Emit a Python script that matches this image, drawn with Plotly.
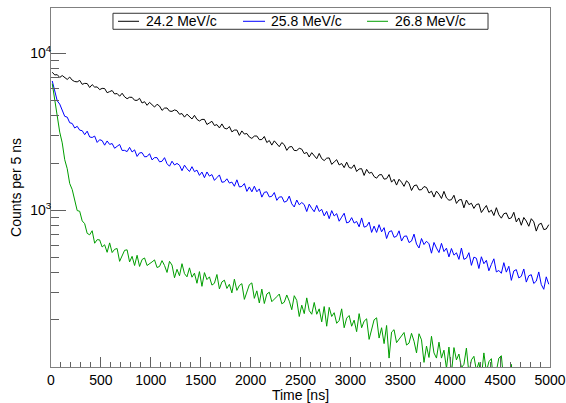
import numpy as np
import plotly.graph_objects as go

BIN_NS = 25
N_BINS = 200
time_ns = (np.arange(N_BINS) + 0.5) * BIN_NS   # bin centres, 0..5000 ns

series_names = ["24.2 MeV/c", "25.8 MeV/c", "26.8 MeV/c"]

counts_242 = [
    7590, 7295, 7323, 7030, 7228, 7049, 6829, 7072, 6755, 6622,
    6587, 6734, 6353, 6446, 6428, 6064, 6326, 6103, 6117, 5881,
    5989, 5974, 5619, 5710, 5802, 5514, 5555, 5335, 5574, 5290,
    5145, 5258, 5249, 5029, 5020, 5173, 4831, 4924, 4670, 4876,
    4732, 4551, 4741, 4620, 4336, 4482, 4489, 4288, 4273, 4363,
    4310, 4095, 4137, 3924, 4100, 3976, 3820, 4030, 3798, 3709,
    3797, 3796, 3522, 3606, 3692, 3472, 3516, 3350, 3553, 3335,
    3298, 3420, 3162, 3245, 3248, 3002, 3206, 3060, 3085, 2930,
    2872, 2972, 2976, 2819, 2824, 2954, 2703, 2785, 2602, 2771,
    2672, 2543, 2702, 2618, 2409, 2533, 2549, 2404, 2403, 2484,
    2452, 2297, 2339, 2185, 2329, 2244, 2132, 2303, 2133, 2074,
    2149, 2156, 1961, 2031, 2101, 1945, 1986, 1869, 2026, 1872,
    1853, 1948, 1766, 1833, 1841, 1667, 1823, 1722, 1746, 1639,
    1601, 1680, 1689, 1579, 1589, 1689, 1510, 1576, 1447, 1576,
    1509, 1420, 1541, 1486, 1337, 1433, 1450, 1348, 1352, 1416,
    1397, 1287, 1323, 1213, 1324, 1266, 1188, 1319, 1198, 1159,
    1167, 1246, 1105, 1162, 1171, 1036, 1162, 1086, 1108, 1027,
    1088, 1098, 967, 1020, 1072, 970, 1001, 925, 1038, 935,
    890, 950, 961, 883, 894, 970, 842, 893, 802, 899,
    853, 790, 883, 844, 736, 811, 826, 753, 759, 809,
]

counts_258 = [
    6674, 5877, 4984, 4753, 4318, 3972, 3924, 3616, 3576, 3345,
    3430, 3242, 3217, 3034, 3194, 2932, 2911, 2971, 2707, 2818,
    2780, 2599, 2766, 2629, 2665, 2484, 2556, 2628, 2406, 2409,
    2366, 2517, 2353, 2427, 2204, 2322, 2329, 2192, 2200, 2294,
    2095, 2166, 2165, 2036, 2052, 2164, 1980, 1909, 2054, 1943,
    1989, 1937, 1787, 1938, 1840, 1767, 1896, 1762, 1802, 1669,
    1752, 1613, 1754, 1651, 1688, 1550, 1615, 1680, 1508, 1518,
    1587, 1490, 1512, 1422, 1563, 1407, 1418, 1480, 1319, 1408,
    1311, 1423, 1311, 1368, 1212, 1301, 1311, 1216, 1227, 1297,
    1156, 1214, 1218, 1126, 1143, 1231, 1098, 1049, 1162, 1083,
    1120, 1086, 981, 1094, 1028, 978, 1074, 982, 1013, 921,
    984, 883, 994, 919, 951, 851, 903, 957, 830, 841,
    897, 828, 848, 784, 893, 780, 790, 840, 722, 792,
    722, 809, 728, 774, 660, 729, 740, 672, 682, 739,
    636, 681, 686, 622, 636, 704, 608, 574, 660, 604,
    634, 611, 532, 623, 574, 537, 615, 545, 573, 504,
    570, 517, 535, 486, 574, 486, 495, 536, 445, 502,
    494, 425, 505, 456, 479, 411, 451, 490, 404, 413,
    396, 463, 403, 439, 357, 410, 418, 370, 379, 422,
    348, 382, 388, 341, 353, 404, 336, 313, 376, 337,
]

counts_268 = [
    6420, 5080, 4050, 3150, 2690, 2100, 1840, 1480, 1355, 1140,
    995, 985, 855, 821, 712, 697, 740, 616, 649, 647,
    583, 602, 539, 619, 537, 563, 570, 472, 513, 555,
    559, 468, 508, 444, 516, 438, 485, 496, 444, 454,
    468, 482, 431, 438, 477, 444, 401, 472, 447, 371,
    420, 382, 456, 394, 376, 429, 374, 397, 342, 406,
    327, 400, 361, 376, 333, 342, 389, 315, 349, 358,
    317, 337, 297, 363, 308, 331, 340, 270, 303, 335,
    344, 274, 306, 256, 314, 254, 292, 300, 261, 269,
    281, 292, 253, 259, 288, 263, 232, 285, 266, 210,
    248, 219, 276, 229, 217, 258, 217, 235, 194, 243,
    182, 240, 210, 222, 190, 198, 235, 178, 205, 213,
    182, 199, 168, 219, 178, 196, 203, 150, 175, 200,
    206, 153, 178, 141, 184, 114, 167, 173, 143, 150,
    158, 166, 138, 142, 164, 146, 123, 163, 149, 107,
    136, 115, 157, 123, 114, 144, 114, 128, 98, 134,
    91, 133, 111, 121, 99, 104, 132, 91, 111, 117,
    95, 107, 86, 123, 93, 108, 113, 75, 94, 114,
    118, 80, 98, 72, 104, 72, 94, 99, 77, 83,
    91, 98, 76, 81, 99, 85, 67, 100, 90, 57,
]

x_tick_vals = list(range(0, 5001, 500))
y_major_vals = [1000, 10000]
y_major_text = ["10<sup>3</sup>", "10<sup>4</sup>"]
y_minor_vals = [200, 300, 400, 500, 600, 700, 800, 900,
                2000, 3000, 4000, 5000, 6000, 7000, 8000, 9000]

colors = ["#000000", "#0000ff", "#009e00"]
FONT = "Liberation Sans, Arial, Helvetica, sans-serif"

fig = go.Figure()
for name, vals, col in zip(series_names, [counts_242, counts_258, counts_268], colors):
    fig.add_trace(go.Scatter(
        x=time_ns, y=vals, mode="lines", name=name, showlegend=False,
        line=dict(color=col, width=1),
    ))

# ---- ROOT-style legend box (drawn in paper coordinates) ----
shapes = [dict(type="rect", xref="paper", yref="paper",
               x0=0.1242, x1=0.8758, y0=0.9407, y1=0.9853,
               line=dict(color="#333333", width=1), fillcolor="white", layer="above")]
annotations = []
legend_line_x = [(0.1343, 0.1764), (0.3848, 0.4289), (0.6333, 0.6754)]
legend_text_x = [0.1864, 0.4369, 0.6854]
LEG_Y = 0.963
for (lx0, lx1), tx, name, col in zip(legend_line_x, legend_text_x, series_names, colors):
    shapes.append(dict(type="line", xref="paper", yref="paper",
                       x0=lx0, x1=lx1, y0=LEG_Y, y1=LEG_Y,
                       line=dict(color=col, width=1), layer="above"))
    annotations.append(dict(xref="paper", yref="paper", x=tx, y=LEG_Y,
                            xanchor="left", yanchor="middle", showarrow=False,
                            text=name, font=dict(family=FONT, size=14, color="black")))

fig.update_layout(
    width=566, height=403,
    margin=dict(l=51, r=16, t=8, b=36),
    paper_bgcolor="white", plot_bgcolor="white",
    font=dict(family=FONT, size=14, color="black"),
    showlegend=False,
    shapes=shapes, annotations=annotations,
    xaxis=dict(
        range=[0, 5000], showgrid=False, zeroline=False,
        showline=True, mirror=True, linecolor="#808080", linewidth=1,
        ticks="inside", ticklen=10, tickcolor="#606060", tickwidth=1,
        tickvals=x_tick_vals,
        minor=dict(dtick=100, ticks="inside", ticklen=5, tickcolor="#606060", showgrid=False),
        tickfont=dict(family=FONT, size=14, color="black"),
        title=dict(text="Time [ns]", font=dict(family=FONT, size=14, color="black"), standoff=2),
        automargin=False,
    ),
    yaxis=dict(
        type="log", range=[2, 4.29], showgrid=False, zeroline=False,
        showline=True, mirror=True, linecolor="#808080", linewidth=1,
        ticks="inside", ticklen=15, tickcolor="#606060", tickwidth=1,
        tickmode="array", tickvals=y_major_vals, ticktext=y_major_text,
        ticklabelstandoff=-4,
        minor=dict(tickmode="array", tickvals=y_minor_vals, ticks="inside", ticklen=8,
                   tickcolor="#606060", showgrid=False),
        tickfont=dict(family=FONT, size=14, color="black"),
        title=dict(text="Counts per 5 ns", font=dict(family=FONT, size=14, color="black"), standoff=5),
        automargin=False,
    ),
)

fig.write_html("out.html", config={"displayModeBar": False},
               post_script="document.body.style.margin='0px';")
